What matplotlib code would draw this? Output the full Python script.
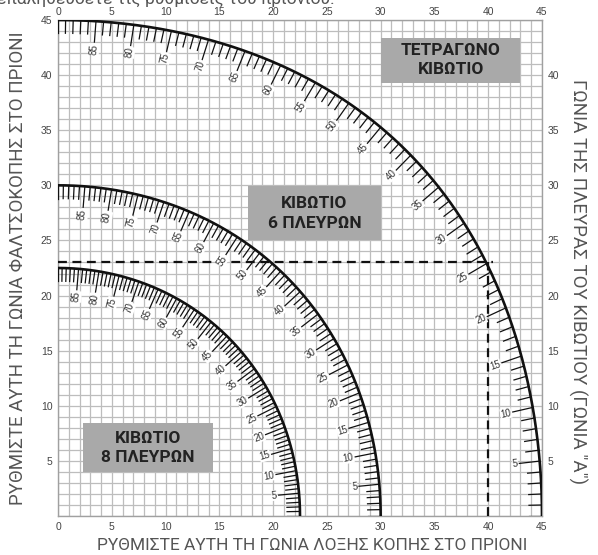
import numpy as np
import matplotlib
matplotlib.use("Agg")
import matplotlib.pyplot as plt

# ---- data ----
box_sides = [4, 6, 8]                       # square, hexagon, octagon
box_labels = ["ΤΕΤΡΑΓΩΝΟ\nΚΙΒΩΤΙΟ", "ΚΙΒΩΤΙΟ\n6 ΠΛΕΥΡΩΝ", "ΚΙΒΩΤΙΟ\n8 ΠΛΕΥΡΩΝ"]
box_rects = [(30.0, 39.3, 13.0, 4.1), (17.7, 25.0, 12.3, 4.9), (2.3, 4.0, 12.1, 4.4)]
side_angles = list(range(0, 91))            # side angle "A", degrees
labeled_angles = list(range(5, 90, 5))
example_bevel = 40
example_miter = 23
axis_ticks = list(range(0, 46, 5))
left_ticks = list(range(5, 46, 5))
right_ticks = list(range(5, 41, 5))

xlabel = "ΡΥΘΜΙΣΤΕ ΑΥΤΗ ΤΗ ΓΩΝΙΑ ΛΟΞΗΣ ΚΟΠΗΣ ΣΤΟ ΠΡΙΟΝΙ"
ylabel_left = "ΡΥΘΜΙΣΤΕ ΑΥΤΗ ΤΗ ΓΩΝΙΑ ΦΑΛΤΣΟΚΟΠΗΣ ΣΤΟ ΠΡΙΟΝΙ"
ylabel_right = "ΓΩΝΙΑ ΤΗΣ ΠΛΕΥΡΑΣ ΤΟΥ ΚΙΒΩΤΙΟΥ (ΓΩΝΙΑ \"Α\")"
top_text = "και να επαληθεύσετε τις ρυθμίσεις του πριονιού."

plt.rcParams['font.family'] = ['Liberation Sans', 'DejaVu Sans']

W, H = 598, 555
fig = plt.figure(figsize=(W / 100, H / 100), dpi=100)
ax = fig.add_axes([58 / W, 1 - 516 / H, 484 / W, 496 / H])
ax.set_xlim(0, 45)
ax.set_ylim(0, 45)

grid_c = '#bdbdbd'
ax.set_xticks(axis_ticks)
ax.set_yticks(left_ticks)
ax.set_xticks(range(46), minor=True)
ax.set_yticks(range(46), minor=True)
ax.grid(which='both', color=grid_c, lw=0.9)
ax.set_axisbelow(True)
for s in ax.spines.values():
    s.set_color('#a0a0a0')
    s.set_linewidth(1.0)
tick_c = '#444444'
ax.tick_params(which='both', length=0, labelsize=7.5, labelcolor=tick_c)
ax.tick_params(axis='x', pad=4.5)
ax.tick_params(axis='y', pad=4)

ax_top = ax.twiny()
ax_top.set_xlim(0, 45)
ax_top.set_xticks(axis_ticks)
ax_top.tick_params(length=0, labelsize=7.5, labelcolor=tick_c, pad=2.5)
ax2 = ax.twinx()
ax2.set_ylim(0, 45)
ax2.set_yticks(right_ticks)
ax2.tick_params(length=0, labelsize=7.5, labelcolor=tick_c, pad=4)
for a in (ax_top, ax2):
    for s in a.spines.values():
        s.set_visible(False)

def curve(n, A):
    th = np.radians(180.0 / n)
    a = np.radians(np.asarray(A, dtype=float))
    bevel = np.degrees(np.arcsin(np.cos(a) * np.sin(th)))
    miter = np.degrees(np.arctan(np.sin(a) * np.tan(th)))
    return bevel, miter

minor_len = 1.2
major_len = 1.9
for n in box_sides:
    Af = np.linspace(0, 90, 400)
    bx, by = curve(n, Af)
    ax.plot(bx, by, color='#111111', lw=1.9, solid_capstyle='butt', zorder=4)
    bx, by = curve(n, side_angles)
    for A, x, y in zip(side_angles, bx, by):
        ang = np.arctan2(y, x)
        L = major_len if A in labeled_angles else minor_len
        x2 = x - L * np.cos(ang)
        y2 = y - L * np.sin(ang)
        ax.plot([x, x2], [y, y2], color='#111111', lw=0.9, zorder=4)
        if A in labeled_angles:
            xt = x2 - 0.15 * np.cos(ang)
            yt = y2 - 0.15 * np.sin(ang)
            ax.text(xt, yt, str(A), rotation=np.degrees(ang), rotation_mode='anchor',
                    ha='right', va='center', fontsize=7, color='#333333', zorder=5,
                    bbox=dict(fc='white', ec='none', pad=0.2))

# example dashed setting
ax.plot([0, example_bevel + 0.4], [example_miter, example_miter], color='#111111',
        lw=1.6, ls=(0, (4, 2.5)), zorder=3)
ax.plot([example_bevel, example_bevel], [0, example_miter], color='#111111',
        lw=1.6, ls=(0, (4, 2.5)), zorder=3)

# gray boxes
for (x, y, w, h), lab in zip(box_rects, box_labels):
    ax.add_patch(plt.Rectangle((x, y), w, h, facecolor='#a9a9a9', edgecolor='none', zorder=3))
    ax.text(x + w / 2, y + h / 2, lab, ha='center', va='center', fontsize=12.5,
            fontweight='bold', color='#222222', family=['Roboto', 'DejaVu Sans'],
            linespacing=1.35, zorder=4)

# axis titles
lab_kw = dict(color='#555555', family=['Roboto', 'DejaVu Sans'])
fig.text(312 / W, 1 - 545 / H, xlabel, ha='center', va='center', fontsize=12.5, **lab_kw)
fig.text(18 / W, 1 - 268 / H, ylabel_left, ha='center', va='center', rotation=90,
         fontsize=13.5, **lab_kw)
fig.text(578 / W, 1 - 282 / H, ylabel_right, ha='center', va='center', rotation=-90,
         fontsize=13.5, **lab_kw)
fig.text(335 / W, 1 - 4 / H, top_text, ha='right', va='baseline', fontsize=12.5, **lab_kw)

fig.savefig('out.png', dpi=100)
